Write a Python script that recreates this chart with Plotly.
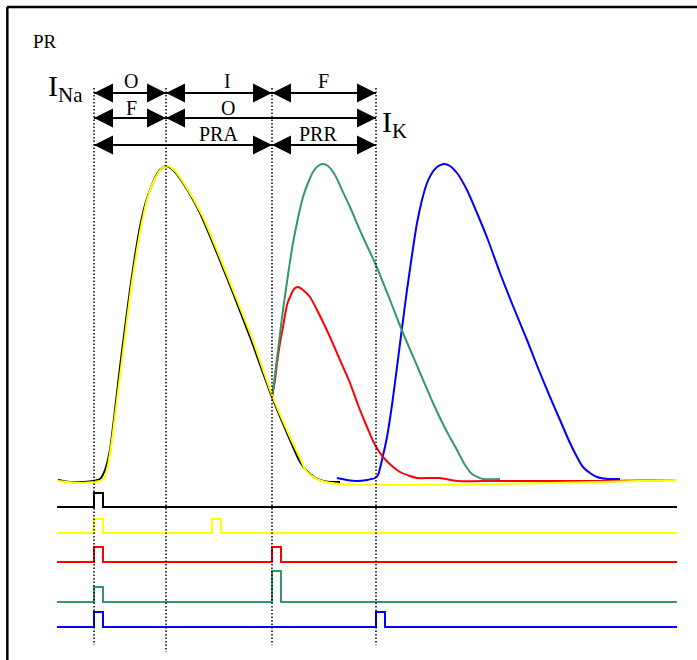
import plotly.graph_objects as go

# ---------------- data (canvas units) ----------------
# Action potentials: time (x) and potential (y, screen-down units)
black_t = [58, 70, 83, 100, 105, 110, 115, 120, 125, 130, 135, 140, 145, 150, 155, 160, 166,
           172, 183, 200, 217, 233, 250, 272, 290, 300, 310, 320, 330, 340]
black_v = [480, 482, 482, 479, 470, 450, 410, 367, 328, 290, 256, 227, 205, 190, 178, 170, 166,
           169, 183, 213, 253, 293, 337, 397, 440, 462, 474, 480, 482, 482]

yellow_t = [58, 80, 100, 104, 108, 112, 117, 122, 127, 132, 137, 142, 147, 152, 157, 162, 168,
            174, 185, 202, 219, 235, 252, 272, 290, 300, 305, 312, 322, 340, 400, 500, 600, 677]
yellow_v = [481, 483, 481, 478, 465, 440, 400, 360, 320, 282, 250, 222, 200, 185, 175, 168, 166,
            170, 185, 215, 255, 295, 338, 395, 437, 458, 469, 476, 481, 484, 485, 484, 482, 480]

red_t = [272, 275, 277, 280, 283, 287, 290, 294, 298, 303, 310, 316, 322, 330, 340, 350, 358,
         367, 375, 383, 392, 400, 410, 417, 430, 440, 457, 500, 600, 677]
red_v = [397, 380, 363, 343, 327, 305, 297, 289, 287, 290, 297, 308, 320, 337, 360, 383, 405,
         427, 445, 457, 466, 472, 476, 478, 478, 478, 481, 481, 481, 480]

green_t = [272, 274, 278, 283, 288, 293, 298, 303, 308, 313, 318, 323, 328, 335, 342, 350, 362,
           375, 390, 403, 418, 433, 446, 457, 465, 472, 483, 500]
green_v = [397, 383, 350, 310, 275, 243, 218, 197, 183, 172, 166, 164, 166, 175, 190, 207, 235,
           263, 300, 333, 368, 403, 430, 450, 465, 474, 479, 479]

blue_t = [337, 347, 357, 367, 375, 378, 382, 387, 392, 397, 402, 407, 412, 417, 422, 427, 432,
          437, 444, 450, 457, 467, 477, 488, 500, 513, 527, 538, 550, 560, 570, 577, 583, 590,
          597, 608, 620]
blue_v = [478, 480, 481, 480, 478, 475, 460, 437, 405, 367, 328, 290, 255, 223, 200, 183, 173,
          167, 164, 166, 173, 190, 213, 240, 273, 306, 340, 368, 397, 420, 443, 457, 467, 473,
          477, 479, 479]

# Stimulus traces: baseline level, pulse onsets and pulse heights
stim_names = ["black", "yellow", "red", "green", "blue"]
stim_base = [507, 533, 562, 602, 627]
stim_onsets = [[94], [94, 212], [94, 272], [94, 272], [94, 376]]
stim_heights = [[14], [14, 14], [15, 15], [15, 31], [15, 15]]
stim_width = 9
stim_start, stim_end = 57, 677

# Reference instants (dotted lines)
marks = [94, 166, 272, 376]
mark_bottom = [645, 652, 645, 645]

# Interval arrows: (start, end) per row, and their labels
arrow_rows = [
    [(94, 166), (166, 272), (272, 376)],
    [(94, 166), (166, 376)],
    [(94, 272), (272, 376)],
]
label_rows = [
    ["O", "I", "F"],
    ["F", "O"],
    ["PRA", "PRR"],
]
label_x_rows = [
    [131, 227, 323],
    [131, 228],
    [218, 318],
]

# ---------------- styling ----------------
colors = {"black": "#000000", "yellow": "#FFFF00", "red": "#FF0000",
          "green": "#339966", "blue": "#0000FF"}
serif = "Liberation Serif, Times New Roman, serif"
row_y = [93, 118, 145]
label_y = [81, 108, 134]

fig = go.Figure()

# stimulus step traces
for name, base, onsets, heights in zip(stim_names, stim_base, stim_onsets, stim_heights):
    xs, ys = [stim_start], [base]
    for on, h in zip(onsets, heights):
        xs += [on, on, on + stim_width, on + stim_width]
        ys += [base, base - h, base - h, base]
    xs.append(stim_end)
    ys.append(base)
    fig.add_trace(go.Scatter(x=xs, y=ys, mode="lines",
                             line=dict(color=colors[name], width=2),
                             hoverinfo="skip", showlegend=False))

# action potentials
for t, v, c in [(blue_t, blue_v, "blue"), (red_t, red_v, "red"), (green_t, green_v, "green"),
                (black_t, black_v, "black"), (yellow_t, yellow_v, "yellow")]:
    fig.add_trace(go.Scatter(x=t, y=v, mode="lines",
                             line=dict(color=colors[c], width=2, shape="spline", smoothing=0.6),
                             hoverinfo="skip", showlegend=False))

# double-headed interval arrows
for r, segs in enumerate(arrow_rows):
    for a, b in segs:
        fig.add_trace(go.Scatter(x=[a, b], y=[row_y[r], row_y[r]], mode="lines",
                                 line=dict(color="black", width=2),
                                 hoverinfo="skip", showlegend=False))
        fig.add_trace(go.Scatter(x=[a, b], y=[row_y[r], row_y[r]], mode="markers",
                                 marker=dict(symbol=["arrow-left", "arrow-right"], size=19,
                                             color="black", line=dict(width=0)),
                                 hoverinfo="skip", showlegend=False))

shapes = []
for m, bot in zip(marks, mark_bottom):
    shapes.append(dict(type="line", xref="x", yref="y", x0=m, x1=m, y0=88, y1=bot,
                       line=dict(color="black", width=1.5, dash="1.5px,2px")))
# frame (top and left)
shapes.append(dict(type="line", xref="paper", yref="paper", x0=0.01, x1=1, y0=0.9894, y1=0.9894,
                   line=dict(color="black", width=2.5)))
shapes.append(dict(type="line", xref="paper", yref="paper", x0=0.0105, x1=0.0105, y0=0, y1=0.9894,
                   line=dict(color="black", width=2.5)))

annotations = []
for r, (labs, lxs) in enumerate(zip(label_rows, label_x_rows)):
    for lab, lx in zip(labs, lxs):
        annotations.append(dict(x=lx, y=label_y[r], xref="x", yref="y",
                                text=lab, showarrow=False,
                                font=dict(family=serif, size=20, color="black")))

annotations.append(dict(x=46, y=88, xref="x", yref="y", text="I<sub>Na</sub>",
                        showarrow=False, xanchor="left",
                        font=dict(family=serif, size=30, color="black")))
annotations.append(dict(x=380, y=124, xref="x", yref="y", text="I<sub>K</sub>",
                        showarrow=False, xanchor="left",
                        font=dict(family=serif, size=30, color="black")))
annotations.append(dict(x=31, y=41, xref="x", yref="y", text="PR",
                        showarrow=False, xanchor="left",
                        font=dict(family=serif, size=19, color="black")))

fig.update_layout(
    width=697, height=660,
    margin=dict(l=0, r=0, t=0, b=0),
    paper_bgcolor="white", plot_bgcolor="white",
    xaxis=dict(range=[0, 697], visible=False, fixedrange=True),
    yaxis=dict(range=[660, 0], visible=False, fixedrange=True),
    shapes=shapes, annotations=annotations,
    showlegend=False,
)

fig.write_html("out.html")
